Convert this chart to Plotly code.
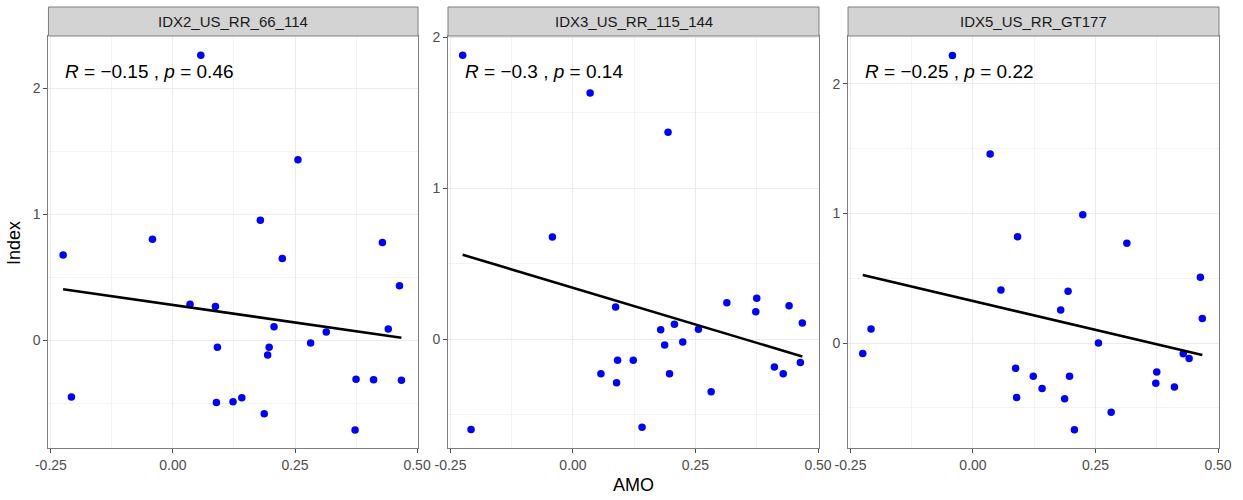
import numpy as np
import plotly.graph_objects as go

# ---- data ----
panels = ["IDX2_US_RR_66_114", "IDX3_US_RR_115_144", "IDX5_US_RR_GT177"]
amo = [-0.225, -0.208, -0.042, 0.035, 0.057, 0.087, 0.089, 0.091, 0.123, 0.141,
       0.179, 0.187, 0.194, 0.197, 0.207, 0.224, 0.256, 0.282, 0.314, 0.373,
       0.375, 0.411, 0.429, 0.441, 0.464, 0.468]
idx2 = [0.675, -0.452, 0.80, 0.283, 2.26, 0.267, -0.495, -0.058, -0.49, -0.458,
        0.95, -0.585, -0.119, -0.058, 0.106, 0.648, 1.43, -0.024, 0.063, -0.714,
        -0.312, -0.315, 0.775, 0.087, 0.43, -0.32]
idx3 = [1.88, -0.60, 0.675, 1.63, -0.23, 0.212, -0.29, -0.14, -0.14, -0.585,
        0.062, -0.04, 1.37, -0.23, 0.097, -0.02, 0.064, -0.35, 0.24, 0.18,
        0.27, -0.185, -0.23, 0.22, -0.155, 0.106]
idx5 = [-0.08, 0.108, 2.22, 1.46, 0.41, -0.195, -0.42, 0.82, -0.257, -0.35,
        0.255, -0.43, 0.40, -0.257, -0.67, 0.99, 0.0, -0.535, 0.77, -0.31,
        -0.224, -0.34, -0.083, -0.12, 0.507, 0.19]
cor_labels = [("−0.15", "0.46"), ("−0.3", "0.14"), ("−0.25", "0.22")]
x_ticks = [-0.25, 0.0, 0.25, 0.50]
x_tick_text = ["-0.25", "0.00", "0.25", "0.50"]
y_ticks = [0, 1, 2]

series = [idx2, idx3, idx5]

W, H = 1243, 500
ML, MR, MT, MB = 48, 24, 36, 52
PW = W - ML - MR
PH = H - MT - MB
domains = [(0.0004, 0.316), (0.3416, 0.6584), (0.6832, 1.0)]
y_ranges = [(-0.857, 2.413), (-0.722, 2.007), (-0.81, 2.37)]
x_range = (-0.255, 0.502)

FONT = "Liberation Sans, Arial, Helvetica, sans-serif"
fig = go.Figure()

shapes = []
annotations = []
for i, (name, ys) in enumerate(zip(panels, series)):
    n = i + 1
    xa = "x" if n == 1 else f"x{n}"
    ya = "y" if n == 1 else f"y{n}"
    xs = np.array(amo)
    yv = np.array(ys)
    fig.add_trace(go.Scatter(x=xs, y=yv, mode="markers",
                             marker=dict(color="#0000FF", size=7.5),
                             xaxis=xa, yaxis=ya, showlegend=False))
    b, a = np.polyfit(xs, yv, 1)
    lx = np.array([xs.min(), xs.max()])
    fig.add_trace(go.Scatter(x=lx, y=a + b * lx, mode="lines",
                             line=dict(color="black", width=2.6),
                             xaxis=xa, yaxis=ya, showlegend=False))
    axis_common = dict(showline=True, mirror=True, linecolor="#7F7F7F", linewidth=1,
                       ticks="outside", ticklen=4, tickcolor="#4D4D4D", tickwidth=1,
                       gridcolor="#EBEBEB", gridwidth=1, zeroline=False,
                       tickfont=dict(family=FONT, size=14, color="#4D4D4D"))
    fig.layout[("xaxis" if n == 1 else f"xaxis{n}")] = dict(
        domain=list(domains[i]), range=list(x_range), anchor=ya,
        tickvals=x_ticks, ticktext=x_tick_text,
        minor=dict(tickvals=[-0.125, 0.125, 0.375], showgrid=True,
                   gridcolor="#F3F3F3", gridwidth=1, ticks=""),
        **axis_common)
    fig.layout[("yaxis" if n == 1 else f"yaxis{n}")] = dict(
        domain=[0, 1], range=list(y_ranges[i]), anchor=xa,
        tickvals=y_ticks,
        minor=dict(tickvals=[-0.5, 0.5, 1.5], showgrid=True,
                   gridcolor="#F3F3F3", gridwidth=1, ticks=""),
        **axis_common)
    # strip
    d0, d1 = domains[i]
    shapes.append(dict(type="rect", xref="paper", yref="paper",
                       x0=d0, x1=d1, y0=1, y1=1 + 29 / PH,
                       fillcolor="#D3D3D3", line=dict(color="#7F7F7F", width=1),
                       layer="above"))
    annotations.append(dict(text=name, xref="paper", yref="paper",
                            x=(d0 + d1) / 2, y=1 + 14.5 / PH, showarrow=False,
                            xanchor="center", yanchor="middle",
                            font=dict(family=FONT, size=15, color="#1A1A1A")))
    r, p = cor_labels[i]
    annotations.append(dict(text=f"<i>R</i> = {r} , <i>p</i> = {p}",
                            xref=xa, yref=ya, x=xs.min(), y=yv.max(),
                            xanchor="left", yanchor="middle", yshift=-16,
                            showarrow=False,
                            font=dict(family=FONT, size=19, color="black")))

annotations.append(dict(text="AMO", xref="paper", yref="paper", x=(633 - ML) / PW,
                        y=-(485 - MT - PH) / PH, showarrow=False,
                        xanchor="center", yanchor="middle",
                        font=dict(family=FONT, size=18, color="black")))
annotations.append(dict(text="Index", xref="paper", yref="paper", x=-(ML - 14) / PW,
                        y=(MT + PH - 243) / PH, showarrow=False, textangle=-90,
                        xanchor="center", yanchor="middle",
                        font=dict(family=FONT, size=18, color="black")))

fig.update_layout(width=W, height=H, margin=dict(l=ML, r=MR, t=MT, b=MB),
                  paper_bgcolor="white", plot_bgcolor="white",
                  shapes=shapes, annotations=annotations, showlegend=False)
fig.write_html("out.html", config={"displayModeBar": False},
               post_script="document.body.style.margin='0';document.body.style.padding='0';")
